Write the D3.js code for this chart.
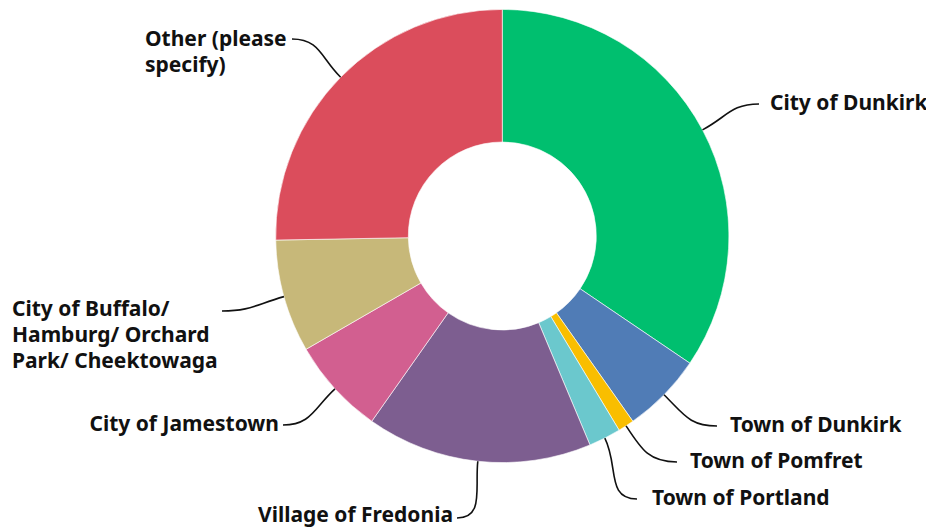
<!DOCTYPE html>
<html lang="en">
<head>
<meta charset="utf-8">
<title>Donut</title>
<script src="https://d3js.org/d3.v7.min.js"></script>
<style>
    body { margin: 0; background: #fff; }
    .label { font-family: "Noto Sans", sans-serif; font-weight: 700; font-size: 21px; fill: #111; }
    .leader { fill: none; stroke: #111; stroke-width: 1.6px; }
</style>
</head>
<body>
<div id="chart"></div>
<script>

// responses per answer
const categories = ["City of Dunkirk", "Town of Dunkirk", "Town of Pomfret", "Town of Portland",
    "Village of Fredonia", "City of Jamestown", "City of Buffalo/ Hamburg/ Orchard Park/ Cheektowaga",
    "Other (please specify)"];
const counts = [30, 5, 1, 2, 14, 6, 7, 22];
const colors = ["#00bf6f", "#507cb6", "#f9be00", "#6bc8cd", "#7d5e90", "#d25f90", "#c7b879", "#db4d5c"];

// label text split over lines as in the picture
const labelLines = [
    ["City of Dunkirk"],
    ["Town of Dunkirk"],
    ["Town of Pomfret"],
    ["Town of Portland"],
    ["Village of Fredonia"],
    ["City of Jamestown"],
    ["City of Buffalo/", "Hamburg/ Orchard", "Park/ Cheektowaga"],
    ["Other (please", "specify)"]
];

const width = 926, height = 527;
const cx = 502.3, cy = 236, outerR = 226.6, innerR = 94;

// where each label sits: text x, first baseline, anchor, leader end
const labelLayout = [
    {x: 770, y: 110, anchor: "start", ex: 759, ey: 104},
    {x: 730, y: 432, anchor: "start", ex: 717, ey: 426},
    {x: 690, y: 468, anchor: "start", ex: 677, ey: 462},
    {x: 652, y: 505, anchor: "start", ex: 637, ey: 499},
    {x: 453, y: 522, anchor: "end",   ex: 457, ey: 518},
    {x: 279, y: 431, anchor: "end",   ex: 283, ey: 425},
    {x: 12,  y: 316, anchor: "start", ex: 222, ey: 311},
    {x: 145, y: 46,  anchor: "start", ex: 292, ey: 39}
];

const svg = d3.select("#chart").append("svg")
    .attr("width", width)
    .attr("height", height);

const g = svg.append("g").attr("transform", `translate(${cx},${cy})`);

const data = categories.map((c, i) => ({name: c, value: counts[i], color: colors[i], i: i}));

const pie = d3.pie().value(d => d.value).sort(null);
const arcs = pie(data);

const arc = d3.arc().innerRadius(innerR).outerRadius(outerR);

g.selectAll("path.slice")
    .data(arcs)
    .join("path")
    .attr("class", "slice")
    .attr("d", arc)
    .attr("fill", d => d.data.color)
    .attr("stroke", "#fff")
    .attr("stroke-width", 0.6);

// leader lines: leave the ring radially, arrive at the label flat
g.selectAll("path.leader")
    .data(arcs)
    .join("path")
    .attr("class", "leader")
    .attr("d", d => {
        const a = (d.startAngle + d.endAngle) / 2;
        const ux = Math.sin(a), uy = -Math.cos(a);
        const x0 = ux * outerR, y0 = uy * outerR;
        const L = labelLayout[d.index];
        const x3 = L.ex - cx, y3 = L.ey - cy;
        const dist = Math.hypot(x3 - x0, y3 - y0);
        const k = dist * 0.45;
        const dir = x3 > x0 ? 1 : -1;
        const p = d3.path();
        p.moveTo(x0, y0);
        p.bezierCurveTo(x0 + ux * k, y0 + uy * k, x3 - dir * k, y3, x3, y3);
        return p.toString();
    });

const labels = svg.selectAll("text.label")
    .data(data)
    .join("text")
    .attr("class", "label")
    .attr("x", d => labelLayout[d.i].x)
    .attr("y", d => labelLayout[d.i].y)
    .attr("text-anchor", d => labelLayout[d.i].anchor);

labels.selectAll("tspan")
    .data(d => labelLines[d.i].map(t => ({t: t, x: labelLayout[d.i].x})))
    .join("tspan")
    .attr("x", d => d.x)
    .attr("dy", (d, j) => j === 0 ? 0 : 26)
    .text(d => d.t);

</script>
</body>
</html>
